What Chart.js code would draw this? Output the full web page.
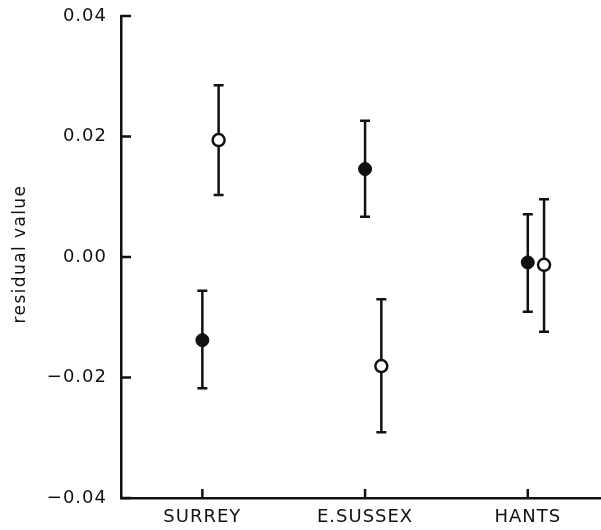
<!DOCTYPE html>
<html lang="en">
<head>
<meta charset="UTF-8">
<title>Residual value by county</title>
<script src="https://cdn.jsdelivr.net/npm/chart.js"></script>
<style>
  html, body { margin: 0; padding: 0; background: #fff; }
  canvas { display: block; }
</style>
</head>
<body>
<canvas id="chart" width="601" height="530"></canvas>
<script>
  // categories along the x axis
  const counties = ['SURREY', 'E.SUSSEX', 'HANTS'];
  const yTicks = [-0.04, -0.02, 0.00, 0.02, 0.04];

  // filled circles
  const filledMean = [-0.0138, 0.0146, -0.0009];
  const filledLow  = [-0.0218, 0.0067, -0.0091];
  const filledHigh = [-0.0056, 0.0226, 0.0071];

  // open circles (drawn a little to the right of each category)
  const openMean = [0.0194, -0.0181, -0.0013];
  const openLow  = [0.0103, -0.0291, -0.0124];
  const openHigh = [0.0285, -0.0070, 0.0096];
  const openShift = 0.1;

  const fontFamily = '"DejaVu Sans", sans-serif';
  const ink = '#111';

  // the original lettering is a little spaced out
  const spacing = {
    id: 'spacing',
    beforeDraw(chart) { chart.ctx.letterSpacing = '1px'; }
  };

  // whiskers with caps, drawn under the markers
  const errorBars = {
    id: 'errorBars',
    beforeDatasetsDraw(chart) {
      const ctx = chart.ctx;
      const y = chart.scales.y;
      ctx.save();
      ctx.strokeStyle = ink;
      ctx.lineWidth = 2.5;
      chart.data.datasets.forEach((ds, i) => {
        const meta = chart.getDatasetMeta(i);
        meta.data.forEach((pt, j) => {
          const top = y.getPixelForValue(ds.high[j]);
          const bot = y.getPixelForValue(ds.low[j]);
          ctx.beginPath();
          ctx.moveTo(pt.x, top); ctx.lineTo(pt.x, bot);
          ctx.moveTo(pt.x - 5, top); ctx.lineTo(pt.x + 5, top);
          ctx.moveTo(pt.x - 5, bot); ctx.lineTo(pt.x + 5, bot);
          ctx.stroke();
        });
      });
      ctx.restore();
    }
  };

  // tick marks point into the plot, plus the rotated y title
  const axisDecor = {
    id: 'axisDecor',
    afterDraw(chart) {
      const ctx = chart.ctx;
      const {left, bottom} = chart.chartArea;
      ctx.save();
      ctx.strokeStyle = ink;
      ctx.lineWidth = 2.5;
      ctx.beginPath();
      yTicks.forEach(v => {
        const py = chart.scales.y.getPixelForValue(v);
        ctx.moveTo(left, py); ctx.lineTo(left + 10, py);
      });
      counties.forEach((c, i) => {
        const px = chart.scales.x.getPixelForValue(i + 1);
        ctx.moveTo(px, bottom); ctx.lineTo(px, bottom - 9);
      });
      ctx.stroke();

      ctx.translate(25, 254);
      ctx.rotate(-Math.PI / 2);
      ctx.fillStyle = ink;
      ctx.font = '17px ' + fontFamily;
      ctx.letterSpacing = '1.4px';
      ctx.textAlign = 'center';
      ctx.textBaseline = 'alphabetic';
      ctx.fillText('residual value', 0, 0);
      ctx.restore();
    }
  };

  // keep the plot box where the reference has it
  function noPad(s) {
    s.paddingTop = 0; s.paddingBottom = 0;
    s.paddingLeft = 0; s.paddingRight = 0;
  }

  new Chart(document.getElementById('chart'), {
    type: 'scatter',
    data: {
      datasets: [
        {
          label: 'filled',
          data: filledMean.map((v, i) => ({x: i + 1, y: v})),
          low: filledLow,
          high: filledHigh,
          pointRadius: 6.5,
          pointBackgroundColor: ink,
          pointBorderColor: ink,
          pointBorderWidth: 1
        },
        {
          label: 'open',
          data: openMean.map((v, i) => ({x: i + 1 + openShift, y: v})),
          low: openLow,
          high: openHigh,
          pointRadius: 6,
          pointBackgroundColor: '#fff',
          pointBorderColor: ink,
          pointBorderWidth: 2.5
        }
      ]
    },
    options: {
      responsive: false,
      animation: false,
      clip: false,
      layout: { autoPadding: false, padding: { top: 16, right: 0, left: 0, bottom: 0 } },
      plugins: { legend: { display: false }, tooltip: { enabled: false } },
      scales: {
        x: {
          type: 'linear',
          min: 0.5,
          max: 3.45,
          afterBuildTicks: s => { s.ticks = counties.map((c, i) => ({value: i + 1})); },
          afterFit: s => { s.height = 32; noPad(s); },
          grid: { display: false, drawTicks: false },
          border: { display: true, color: ink, width: 2.5 },
          ticks: {
            padding: 9,
            color: ink,
            font: { family: fontFamily, size: 18 },
            callback: v => counties[Math.round(v) - 1]
          }
        },
        y: {
          min: -0.04,
          max: 0.04,
          afterBuildTicks: s => { s.ticks = yTicks.map(v => ({value: v})); },
          afterFit: s => { s.width = 121; noPad(s); },
          grid: { display: false, drawTicks: false },
          border: { display: true, color: ink, width: 2.5 },
          ticks: {
            padding: 14,
            color: ink,
            font: { family: fontFamily, size: 18 },
            callback: v => {
              const s = Math.abs(v).toFixed(2);
              return v < -1e-9 ? '\u2212' + s : s;
            }
          }
        }
      }
    },
    plugins: [spacing, errorBars, axisDecor]
  });
</script>
</body>
</html>
